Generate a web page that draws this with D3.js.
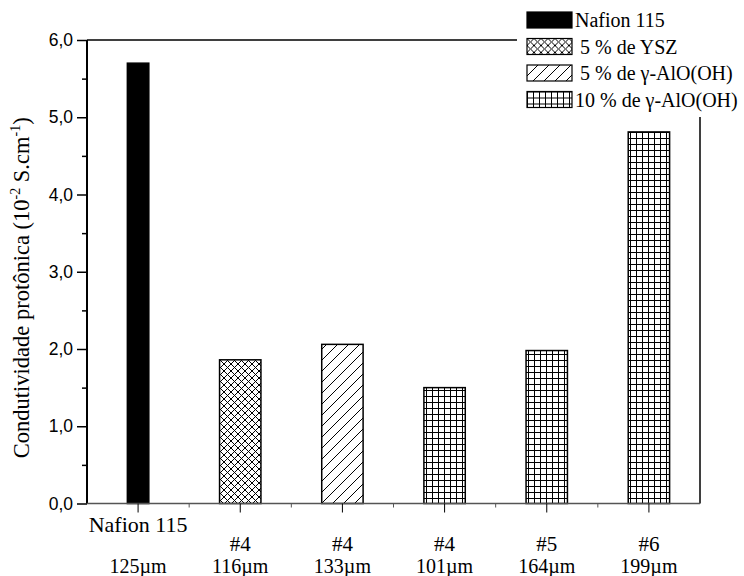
<!DOCTYPE html>
<html>
<head>
<meta charset="utf-8">
<script src="https://cdn.jsdelivr.net/npm/d3@7"></script>
<style>
  body { margin: 0; background: #fff; }
  svg { display: block; }
</style>
</head>
<body>
<svg id="chart" width="744" height="576"></svg>
<script>
// ---- data ----
const sampleIds = ["Nafion 115", "#4", "#4", "#4", "#5", "#6"];
const thicknesses = ["125µm", "116µm", "133µm", "101µm", "164µm", "199µm"];
const conductivity = [5.70, 1.86, 2.06, 1.50, 1.98, 4.81];
const materialIndex = [0, 1, 2, 3, 3, 3];
const legendLabels = ["Nafion 115", " 5 % de YSZ", " 5 % de γ-AlO(OH)", "10 % de γ-AlO(OH)"];
const yTickValues = [0, 1, 2, 3, 4, 5, 6];
const yMinorTicks = [0.5, 1.5, 2.5, 3.5, 4.5, 5.5];

// ---- setup ----
(function () {
const svg = d3.select("#chart");
const serif = "'Liberation Serif', 'Times New Roman', serif";
const sans = "'Liberation Sans', Arial, sans-serif";
const pLeft = 87, pRight = 700, pTop = 40, pBottom = 503.5;

const idx = d3.range(sampleIds.length);
const x = d3.scaleBand().domain(idx).range([pLeft, pRight]).padding(0);
const y = d3.scaleLinear().domain([0, 6]).range([pBottom, pTop]);

// patterns
const defs = svg.append("defs");
const pCross = defs.append("pattern").attr("id", "p1").attr("patternUnits", "userSpaceOnUse")
  .attr("width", 7).attr("height", 7);
pCross.append("rect").attr("width", 7).attr("height", 7).attr("fill", "#fff");
pCross.append("path").attr("d", "M0,0L7,7M7,0L0,7M-1,1L1,-1M6,8L8,6M-1,6L1,8M6,-1L8,1")
  .attr("stroke", "#000").attr("stroke-width", 1);

const pSlash = defs.append("pattern").attr("id", "p2").attr("patternUnits", "userSpaceOnUse")
  .attr("width", 11).attr("height", 11);
pSlash.append("rect").attr("width", 11).attr("height", 11).attr("fill", "#fff");
pSlash.append("path").attr("d", "M0,11L11,0M-1,1L1,-1M10,12L12,10")
  .attr("stroke", "#000").attr("stroke-width", 1);

const pGrid = defs.append("pattern").attr("id", "p3").attr("patternUnits", "userSpaceOnUse")
  .attr("width", 6).attr("height", 6);
pGrid.append("rect").attr("width", 6).attr("height", 6).attr("fill", "#fff");
pGrid.append("path").attr("d", "M0,0.5H6M0.5,0V6")
  .attr("stroke", "#000").attr("stroke-width", 1);

const fills = ["#000", "url(#p1)", "url(#p2)", "url(#p3)"];

// frame (top & right)
svg.append("path")
  .attr("d", `M${pLeft},${pTop}H${pRight}V${pBottom}`)
  .attr("fill", "none").attr("stroke", "#000").attr("stroke-width", 1.5);

const bw = i => x.bandwidth() * (materialIndex[i] === 0 ? 0.21 : 0.405);

// bars
svg.append("g").selectAll("rect").data(idx).join("rect")
  .attr("x", i => x(i) + x.bandwidth() / 2 - bw(i) / 2)
  .attr("width", i => bw(i))
  .attr("y", i => y(conductivity[i]))
  .attr("height", i => y(0) - y(conductivity[i]))
  .attr("fill", i => fills[materialIndex[i]])
  .attr("stroke", "#000").attr("stroke-width", 1.5);

// y axis
const yAxis = d3.axisLeft(y).tickValues(yTickValues).tickSize(10).tickPadding(4)
  .tickFormat(d => d3.format(".1f")(d).replace(".", ","));
const gy = svg.append("g").attr("transform", `translate(${pLeft},0)`).call(yAxis);
gy.select(".domain").attr("stroke-width", 2).attr("d", `M0,${pBottom}V${pTop}`);
gy.selectAll(".tick line").attr("stroke-width", 1.5);
gy.selectAll(".tick text").attr("font-family", sans).attr("font-size", 17.5).attr("fill", "#000");
svg.append("g").attr("transform", `translate(${pLeft},0)`)
  .call(d3.axisLeft(y).tickValues(yMinorTicks).tickSize(5).tickFormat(""))
  .call(g => g.select(".domain").remove())
  .selectAll(".tick line").attr("stroke-width", 1.5);

// x axis
const xAxis = d3.axisBottom(x).tickSize(9).tickFormat("");
const gx = svg.append("g").attr("transform", `translate(0,${pBottom})`).call(xAxis);
gx.select(".domain").attr("stroke", "#555").attr("stroke-width", 1.5).attr("d", `M${pLeft},0H${pRight}`);
gx.selectAll(".tick line").attr("stroke-width", 1);
// minor x ticks between categories
svg.append("g").selectAll("line").data(idx.slice(1)).join("line")
  .attr("x1", i => x(i)).attr("x2", i => x(i))
  .attr("y1", pBottom).attr("y2", pBottom + 4)
  .attr("stroke", "#555").attr("stroke-width", 1);

// x labels
const xl = svg.append("g").attr("font-family", serif).attr("font-size", 22).attr("text-anchor", "middle");
xl.selectAll("text.id").data(idx).join("text").attr("class", "id")
  .attr("x", i => x(i) + x.bandwidth() / 2)
  .attr("y", i => i === 0 ? 532 : 551)
  .attr("font-size", i => i === 0 ? 22 : 21)
  .text(i => sampleIds[i]);
xl.selectAll("text.th").data(idx).join("text").attr("class", "th")
  .attr("x", i => x(i) + x.bandwidth() / 2)
  .attr("y", 573)
  .attr("font-size", 20)
  .text(i => thicknesses[i]);

// y title
const yt = svg.append("text")
  .attr("transform", `translate(29,${(pTop + pBottom) / 2 + 16}) rotate(-90)`)
  .attr("text-anchor", "middle").attr("font-family", serif).attr("font-size", 22.5);
yt.append("tspan").text("Condutividade protônica (10");
yt.append("tspan").attr("dy", -9).attr("font-size", 14).text("-2");
yt.append("tspan").attr("dy", 9).text(" S.cm");
yt.append("tspan").attr("dy", -9).attr("font-size", 14).text("-1");
yt.append("tspan").attr("dy", 9).text(")");

// legend
const lg = svg.append("g");
lg.append("rect").attr("x", 517).attr("y", 0).attr("width", 227).attr("height", 117).attr("fill", "#fff");
const rows = lg.selectAll("g.row").data(legendLabels).join("g").attr("class", "row")
  .attr("transform", (d, i) => `translate(527,${12 + i * 26.5})`);
rows.append("rect").attr("width", 45).attr("height", 16)
  .attr("fill", (d, i) => fills[i]).attr("stroke", "#000").attr("stroke-width", 1.2);
rows.append("text").attr("x", 48).attr("y", 15)
  .attr("font-family", serif).attr("font-size", 20).style("white-space", "pre")
  .text(d => d);
})();
</script>
</body>
</html>
